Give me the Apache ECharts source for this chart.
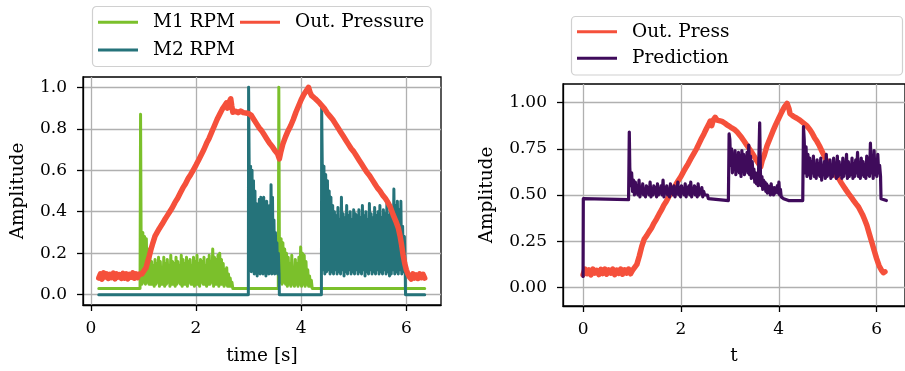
<!DOCTYPE html>
<html>
<head>
<meta charset="utf-8">
<script src="https://cdn.jsdelivr.net/npm/echarts@6.0.0/dist/echarts.min.js"></script>
<style>
html, body { margin: 0; padding: 0; background: #fff; }
#chart { width: 905px; height: 371px; }
</style>
</head>
<body>
<div id="chart"></div>
<script>
// ---------- Left panel: motor speeds and outlet pressure vs time [s] ----------
// Plain [t, value] points, and bursts sampled evenly between "from" and "to".
const m1Lead = [[0.15, 0.03], [0.935, 0.03], [0.945, 0.87]];
const m1Burst1 = { from: 0.955, to: 2.70, values: [0.31,0.05,0.30,0.06,0.28,0.05,0.27,0.06,0.22,0.05,0.20,0.05,0.16,0.05,0.14,0.04,0.17,0.05,0.15,0.06,0.18,0.04,0.16,0.05,0.13,0.05,0.18,0.04,0.15,0.05,0.17,0.06,0.14,0.04,0.19,0.05,0.16,0.05,0.15,0.04,0.18,0.05,0.16,0.06,0.14,0.05,0.19,0.04,0.17,0.05,0.15,0.05,0.18,0.04,0.16,0.06,0.17,0.05,0.14,0.05,0.18,0.04,0.16,0.05,0.19,0.05,0.15,0.04,0.17,0.06,0.16,0.05,0.18,0.05,0.14,0.04,0.17,0.05,0.19,0.05,0.16,0.06,0.22,0.04,0.18,0.05,0.17,0.05,0.19,0.04,0.20,0.05,0.17,0.05,0.15,0.04,0.12,0.05,0.13,0.04,0.10,0.04,0.08,0.04,0.06,0.03] };
const m1Mid = [[2.72, 0.03], [3.565, 0.03], [3.575, 1.0]];
const m1Burst2 = { from: 3.585, to: 4.21, values: [0.28,0.06,0.27,0.05,0.25,0.06,0.22,0.05,0.20,0.04,0.18,0.05,0.15,0.04,0.19,0.05,0.13,0.04,0.17,0.05,0.15,0.04,0.18,0.05,0.23,0.04,0.20,0.05,0.19,0.04,0.16,0.05,0.12,0.04,0.09,0.04,0.07,0.03] };
const m1Tail = [[4.22, 0.03], [6.35, 0.03]];

const m2Lead = [[0.15, 0.0], [2.995, 0.0], [3.0, 1.0]];
const m2Burst1 = { from: 3.01, to: 3.58, values: [0.66,0.13,0.62,0.11,0.60,0.12,0.55,0.10,0.50,0.12,0.44,0.09,0.42,0.11,0.46,0.10,0.47,0.12,0.40,0.10,0.47,0.11,0.42,0.09,0.45,0.12,0.38,0.10,0.43,0.11,0.53,0.10,0.47,0.12,0.36,0.10,0.30,0.11,0.25,0.10,0.20,0.10] };
const m2Mid = [[3.585, 0.0], [4.385, 0.0], [4.39, 0.91]];
const m2Burst2 = { from: 4.40, to: 5.98, values: [0.66,0.12,0.62,0.10,0.58,0.11,0.55,0.12,0.50,0.10,0.47,0.11,0.43,0.10,0.40,0.12,0.38,0.10,0.42,0.11,0.36,0.10,0.47,0.12,0.39,0.09,0.37,0.11,0.43,0.10,0.38,0.12,0.40,0.10,0.36,0.11,0.41,0.10,0.39,0.12,0.38,0.10,0.41,0.11,0.37,0.10,0.43,0.12,0.38,0.09,0.40,0.11,0.36,0.10,0.44,0.12,0.39,0.10,0.37,0.11,0.42,0.10,0.38,0.12,0.40,0.10,0.43,0.11,0.37,0.10,0.41,0.12,0.39,0.10,0.44,0.11,0.38,0.09,0.42,0.10,0.40,0.12,0.51,0.10,0.43,0.11,0.45,0.10,0.41,0.12,0.45,0.10,0.33,0.11,0.28,0.10] };
const m2Tail = [[5.985, 0.0], [6.35, 0.0]];

const pressFlatA = { from: 0.15, to: 0.95, values: [0.08,0.1,0.075,0.105,0.085,0.1,0.078,0.098,0.082,0.104,0.076,0.1,0.085,0.097,0.078,0.103,0.08,0.1,0.076,0.098,0.084,0.105,0.079,0.1,0.082,0.1,0.095] };
const pressMain = [[0.97,0.1],[1.01,0.115],[1.05,0.13],[1.08,0.16],[1.11,0.185],[1.14,0.215],[1.18,0.25],[1.22,0.282],[1.26,0.3],[1.3,0.318],[1.35,0.338],[1.4,0.36],[1.45,0.38],[1.5,0.4],[1.55,0.42],[1.6,0.445],[1.65,0.465],[1.7,0.49],[1.75,0.515],[1.8,0.535],[1.85,0.56],[1.9,0.58],[1.95,0.602],[2.0,0.625],[2.05,0.65],[2.1,0.675],[2.15,0.70],[2.2,0.73],[2.25,0.755],[2.3,0.785],[2.35,0.815],[2.4,0.845],[2.45,0.87],[2.5,0.895],[2.54,0.91],[2.58,0.925],[2.6,0.9],[2.63,0.93],[2.66,0.945],[2.68,0.91],[2.7,0.88],[2.75,0.885],[2.8,0.878],[2.85,0.886],[2.9,0.878],[2.95,0.876],[3.0,0.874],[3.05,0.865],[3.1,0.845],[3.15,0.825],[3.2,0.805],[3.25,0.79],[3.3,0.77],[3.35,0.75],[3.4,0.73],[3.45,0.715],[3.5,0.695],[3.55,0.68],[3.585,0.655],[3.61,0.685],[3.65,0.725],[3.7,0.76],[3.75,0.79],[3.8,0.815],[3.85,0.845],[3.9,0.88],[3.95,0.91],[4.0,0.94],[4.05,0.965],[4.1,0.985],[4.14,1.0],[4.17,0.975],[4.2,0.96],[4.23,0.955],[4.27,0.945],[4.3,0.94],[4.35,0.925],[4.4,0.91],[4.45,0.895],[4.5,0.875],[4.55,0.86],[4.6,0.845],[4.65,0.825],[4.7,0.805],[4.75,0.785],[4.8,0.765],[4.85,0.745],[4.9,0.725],[4.95,0.705],[5.0,0.69],[5.05,0.67],[5.1,0.65],[5.15,0.63],[5.2,0.61],[5.25,0.59],[5.3,0.575],[5.35,0.555],[5.4,0.535],[5.45,0.515],[5.5,0.5],[5.55,0.48],[5.6,0.465],[5.65,0.445],[5.7,0.42],[5.75,0.385],[5.8,0.355],[5.85,0.32],[5.88,0.285],[5.91,0.24],[5.94,0.19],[5.97,0.15],[6.0,0.12],[6.03,0.1]];
const pressFlatB = { from: 6.06, to: 6.35, values: [0.085,0.075,0.1,0.08,0.095,0.078,0.1,0.082,0.098,0.08] };

// ---------- Right panel: outlet pressure and model prediction vs t ----------
const outFlat = { from: 0.0, to: 1.05, values: [0.07,0.1,0.075,0.095,0.068,0.1,0.078,0.092,0.07,0.098,0.075,0.1,0.072,0.095,0.078,0.1,0.07,0.094,0.076,0.1,0.072,0.096,0.078,0.1,0.074,0.093,0.085] };
const outMain = [[1.1,0.125],[1.15,0.17],[1.2,0.222],[1.25,0.262],[1.3,0.28],[1.35,0.302],[1.4,0.322],[1.45,0.348],[1.5,0.37],[1.55,0.395],[1.6,0.418],[1.65,0.445],[1.7,0.465],[1.77,0.5],[1.83,0.525],[1.9,0.558],[1.95,0.58],[2.0,0.6],[2.05,0.625],[2.1,0.648],[2.15,0.67],[2.2,0.695],[2.26,0.722],[2.32,0.75],[2.37,0.778],[2.42,0.805],[2.47,0.83],[2.52,0.858],[2.56,0.878],[2.6,0.9],[2.63,0.875],[2.66,0.905],[2.7,0.92],[2.74,0.905],[2.78,0.912],[2.84,0.898],[2.9,0.888],[2.96,0.876],[3.02,0.866],[3.09,0.855],[3.15,0.84],[3.22,0.818],[3.29,0.792],[3.35,0.768],[3.42,0.742],[3.49,0.712],[3.55,0.685],[3.6,0.665],[3.63,0.652],[3.66,0.685],[3.7,0.712],[3.76,0.766],[3.82,0.805],[3.88,0.845],[3.94,0.882],[4.0,0.915],[4.06,0.948],[4.12,0.978],[4.17,0.995],[4.19,1.005],[4.21,0.965],[4.23,0.94],[4.3,0.925],[4.37,0.915],[4.43,0.905],[4.5,0.89],[4.57,0.875],[4.63,0.856],[4.68,0.835],[4.73,0.81],[4.78,0.79],[4.83,0.766],[4.88,0.738],[4.93,0.71],[4.98,0.684],[5.03,0.659],[5.08,0.638],[5.13,0.618],[5.18,0.6],[5.23,0.587],[5.28,0.565],[5.33,0.545],[5.38,0.525],[5.43,0.506],[5.48,0.488],[5.53,0.47],[5.58,0.452],[5.63,0.435],[5.67,0.415],[5.71,0.395],[5.75,0.37],[5.8,0.336],[5.85,0.29],[5.9,0.246],[5.95,0.2],[6.0,0.156],[6.05,0.118],[6.1,0.093],[6.14,0.08],[6.17,0.085]];

const predLead = [[0.0, 0.06], [0.005, 0.48], [0.93, 0.475], [0.945, 0.84]];
const predBurst1 = { from: 0.955, to: 2.56, values: [0.65,0.55,0.62,0.52,0.58,0.50,0.57,0.51,0.55,0.50,0.58,0.49,0.54,0.51,0.56,0.50,0.53,0.49,0.55,0.51,0.54,0.50,0.57,0.49,0.53,0.50,0.55,0.51,0.54,0.49,0.56,0.50,0.53,0.51,0.55,0.50,0.58,0.49,0.54,0.51,0.55,0.50,0.53,0.49,0.56,0.51,0.54,0.50,0.55,0.49,0.53,0.51,0.57,0.50,0.54,0.49,0.55,0.51,0.53,0.50,0.56,0.49,0.54,0.51,0.55,0.50,0.57,0.49,0.53,0.51,0.55,0.50,0.54,0.49,0.56,0.50,0.53,0.51,0.54,0.49,0.52,0.50,0.51,0.49,0.50,0.48] };
const predMid1 = [[2.6, 0.475], [2.97, 0.47], [2.985, 0.83]];
const predBurst2 = { from: 3.0, to: 3.58, values: [0.80,0.66,0.75,0.62,0.72,0.64,0.74,0.61,0.70,0.63,0.73,0.62,0.71,0.60,0.74,0.63,0.72,0.61,0.70,0.64,0.73,0.62,0.77,0.61,0.71,0.59,0.68,0.60,0.64,0.57,0.62,0.56,0.60,0.55] };
const predSpike = [[3.6, 0.55], [3.61, 0.89]];
const predBurst3 = { from: 3.625, to: 4.05, values: [0.62,0.55,0.60,0.53,0.58,0.54,0.57,0.52,0.56,0.51,0.55,0.52,0.54,0.50,0.56,0.51,0.53,0.50,0.54,0.51,0.52,0.50,0.55,0.51,0.57,0.50,0.53,0.49] };
const predMid2 = [[4.1, 0.48], [4.2, 0.47], [4.49, 0.47], [4.505, 0.87]];
const predBurst4 = { from: 4.52, to: 6.08, values: [0.80,0.62,0.76,0.60,0.72,0.61,0.70,0.59,0.68,0.62,0.71,0.60,0.66,0.59,0.69,0.61,0.67,0.60,0.70,0.58,0.66,0.61,0.68,0.59,0.72,0.60,0.67,0.61,0.69,0.59,0.66,0.60,0.70,0.62,0.67,0.59,0.71,0.60,0.68,0.61,0.66,0.59,0.70,0.60,0.67,0.62,0.72,0.59,0.68,0.60,0.66,0.61,0.70,0.59,0.67,0.60,0.69,0.62,0.73,0.60,0.67,0.59,0.70,0.61,0.68,0.60,0.66,0.59,0.71,0.61,0.67,0.60,0.78,0.62,0.70,0.59,0.74,0.61,0.69,0.60,0.72,0.62,0.66,0.60] };
const predTail = [[6.09, 0.48], [6.1, 0.47], [6.2, 0.47]];

// Tick values
const leftXTicks = [0, 2, 4, 6];
const leftYTicks = [0, 0.2, 0.4, 0.6, 0.8, 1.0];
const rightXTicks = [0, 2, 4, 6];
const rightYTicks = [0, 0.25, 0.5, 0.75, 1.0];

// ---------- helpers ----------
function burst(seg) {
  const n = seg.values.length;
  return seg.values.map((v, i) => [seg.from + (seg.to - seg.from) * i / (n - 1), v]);
}
function join(...parts) {
  const out = [];
  parts.forEach(p => { (Array.isArray(p) ? p : burst(p)).forEach(pt => out.push(pt)); });
  return out;
}

const FONT = 'DejaVu Serif';
const TICK_SIZE = 17, TEXT_SIZE = 18.5;
const C_M1 = '#7bc02b', C_M2 = '#25737a', C_P = '#f5503b', C_PRED = '#3f0b5b';

function xAxisCfg(gridIndex, min, max, ticks, name, nameGap) {
  return {
    type: 'value', gridIndex, min, max, name, nameLocation: 'middle', nameGap,
    nameTextStyle: { fontFamily: FONT, fontSize: TEXT_SIZE, color: '#000' },
    axisLine: { show: true, onZero: false, lineStyle: { color: '#000', width: 1.3 } },
    axisTick: { show: true, inside: false, length: 6, customValues: ticks, lineStyle: { color: '#000', width: 1.3 } },
    axisLabel: { customValues: ticks, margin: 15, fontFamily: FONT, fontSize: TICK_SIZE, color: '#000', formatter: v => String(v) },
    splitLine: { show: true, lineStyle: { color: '#b0b0b0', width: 1.3 } }
  };
}
function yAxisCfg(gridIndex, min, max, ticks, digits, nameGap) {
  return {
    type: 'value', gridIndex, min, max, name: 'Amplitude', nameLocation: 'middle', nameRotate: 90, nameGap,
    nameTextStyle: { fontFamily: FONT, fontSize: TEXT_SIZE, color: '#000' },
    axisLine: { show: true, onZero: false, lineStyle: { color: '#000', width: 1.3 } },
    axisTick: { show: true, inside: false, length: 6, customValues: ticks, lineStyle: { color: '#000', width: 1.3 } },
    axisLabel: { customValues: ticks, margin: 16, fontFamily: FONT, fontSize: TICK_SIZE, color: '#000', formatter: v => v.toFixed(digits) },
    splitLine: { show: true, lineStyle: { color: '#b0b0b0', width: 1.3 } }
  };
}
function lineSeries(name, data, color, width, xi) {
  return {
    name, type: 'line', data, xAxisIndex: xi, yAxisIndex: xi,
    symbol: 'none', showSymbol: false, sampling: null, clip: true,
    lineStyle: { color, width, join: 'round', cap: 'round' }, itemStyle: { color },
    emphasis: { disabled: true }, animation: false
  };
}
function legendItem(name, left, top) {
  return {
    data: [name], left, top, padding: 0, icon: 'rect', itemWidth: 40, itemHeight: 3,
    selectedMode: false,
    textStyle: { fontFamily: FONT, fontSize: TEXT_SIZE, color: '#000', padding: [0, 0, 0, 10] }
  };
}

const chart = echarts.init(document.getElementById('chart'), null, { renderer: 'canvas' });
chart.setOption({
  backgroundColor: '#fff',
  animation: false,
  grid: [
    { left: 83, top: 77, width: 358, height: 228, show: true, borderColor: '#000', borderWidth: 1.3 },
    { left: 563, top: 84, width: 348, height: 224, show: true, borderColor: '#000', borderWidth: 1.3 }
  ],
  xAxis: [
    xAxisCfg(0, -0.15, 6.66, leftXTicks, 'time [s]', 42),
    xAxisCfg(1, -0.41, 6.58, rightXTicks, 't', 41)
  ],
  yAxis: [
    yAxisCfg(0, -0.05, 1.05, leftYTicks, 1, 55),
    yAxisCfg(1, -0.1, 1.1, rightYTicks, 2, 66)
  ],
  graphic: [
    { type: 'rect', z: 0, shape: { x: 92.5, y: 6.5, width: 338.5, height: 60, r: 4 }, style: { fill: '#fff', stroke: '#d0d0d0', lineWidth: 1.2 } },
    { type: 'rect', z: 0, shape: { x: 571.5, y: 16.5, width: 331, height: 58.5, r: 4 }, style: { fill: '#fff', stroke: '#d0d0d0', lineWidth: 1.2 } }
  ],
  legend: [
    legendItem('M1 RPM', 98, 12.8),
    legendItem('M2 RPM', 98, 40.5),
    legendItem('Out. Pressure', 240, 12.8),
    legendItem('Out. Press', 577, 22.2),
    legendItem('Prediction', 577, 48.8)
  ],
  series: [
    lineSeries('M1 RPM', join(m1Lead, m1Burst1, m1Mid, m1Burst2, m1Tail), C_M1, 3, 0),
    lineSeries('M2 RPM', join(m2Lead, m2Burst1, m2Mid, m2Burst2, m2Tail), C_M2, 3, 0),
    lineSeries('Out. Pressure', join(pressFlatA, pressMain, pressFlatB), C_P, 5.5, 0),
    lineSeries('Out. Press', join(outFlat, outMain), C_P, 5.5, 1),
    lineSeries('Prediction', join(predLead, predBurst1, predMid1, predBurst2, predSpike, predBurst3, predMid2, predBurst4, predTail), C_PRED, 3.2, 1)
  ]
});
</script>
</body>
</html>
